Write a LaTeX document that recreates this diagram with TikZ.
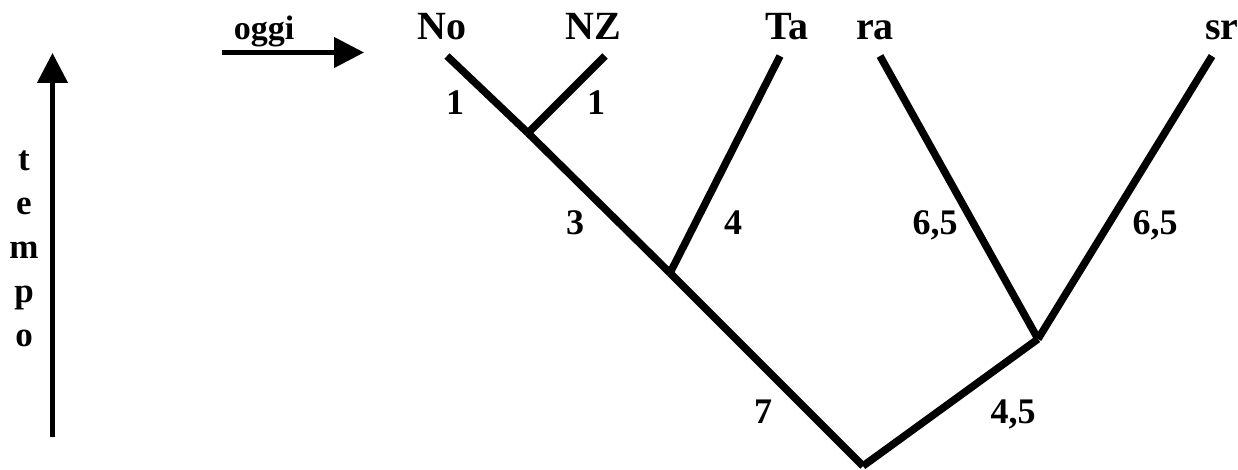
\documentclass[tikz,border=0pt]{standalone}
\usepackage{fontspec}
\setmainfont{Liberation Serif}
\usetikzlibrary{arrows.meta}
\begin{document}
\begin{tikzpicture}[x=1pt,y=-1pt,
  branch/.style={line width=7.5pt,line cap=butt},
  leaf/.style={font=\fontsize{40}{44}\selectfont\bfseries,inner sep=0pt,anchor=base},
  num/.style={font=\fontsize{36}{40}\selectfont\bfseries,inner sep=0pt,anchor=base},
  axisarrow/.style={line width=4.5pt,-{Triangle[length=30pt,width=30pt]}}]
\useasboundingbox[fill=white] (0,0) rectangle (1238,470);
% leaf labels
\node[leaf] (No) at (442,40) {No};
\node[leaf] (NZ) at (593,40) {NZ};
\node[leaf] (Ta) at (787,40) {Ta};
\node[leaf] (ra) at (875,40) {ra};
\node[leaf] (sr) at (1222,40) {sr};
% tree points
\coordinate (tNo) at (447,56);
\coordinate (tNZ) at (605,56);
\coordinate (tTa) at (780,56);
\coordinate (tra) at (880,56);
\coordinate (tsr) at (1212,56);
\coordinate (jNoNZ) at (528,133);
\coordinate (jTa) at (670,273);
\coordinate (jrs) at (1038,339);
\coordinate (root) at (863,466);
% branches
\draw[branch] (tNo) -- (jNoNZ);
\draw[branch] (tNZ) -- (jNoNZ);
\draw[branch] (jNoNZ) -- (jTa);
\draw[branch] (tTa) -- (jTa);
\draw[branch] (jTa) -- (root);
\draw[branch] (tra) -- (jrs);
\draw[branch] (tsr) -- (jrs);
\draw[branch] (jrs) -- (root);
% branch lengths
\node[num] (l1) at (455,115) {1};
\node[num] (l2) at (596,115) {1};
\node[num] (l3) at (575,235) {3};
\node[num] (l4) at (733,235) {4};
\node[num] (l5) at (935,235) {6,5};
\node[num] (l6) at (1155,235) {6,5};
\node[num] (l7) at (763,423) {7};
\node[num] (l8) at (1013,423) {4,5};
% oggi arrow
\node[font=\fontsize{34}{40}\selectfont\bfseries,inner sep=0pt,anchor=base] (oggi) at (264,40) {oggi};
\coordinate (oS) at (222,52.5);
\coordinate (oE) at (364,52.5);
\draw[axisarrow] (oS) -- (oE);
% time axis
\coordinate (aS) at (52.5,437);
\coordinate (aE) at (52.5,53);
\draw[axisarrow] (aS) -- (aE);
\node[font=\fontsize{35}{44}\selectfont\bfseries,inner sep=0pt,anchor=north,align=center] (tempo) at (24,151) {t\\e\\m\\p\\o};
\end{tikzpicture}
\end{document}
